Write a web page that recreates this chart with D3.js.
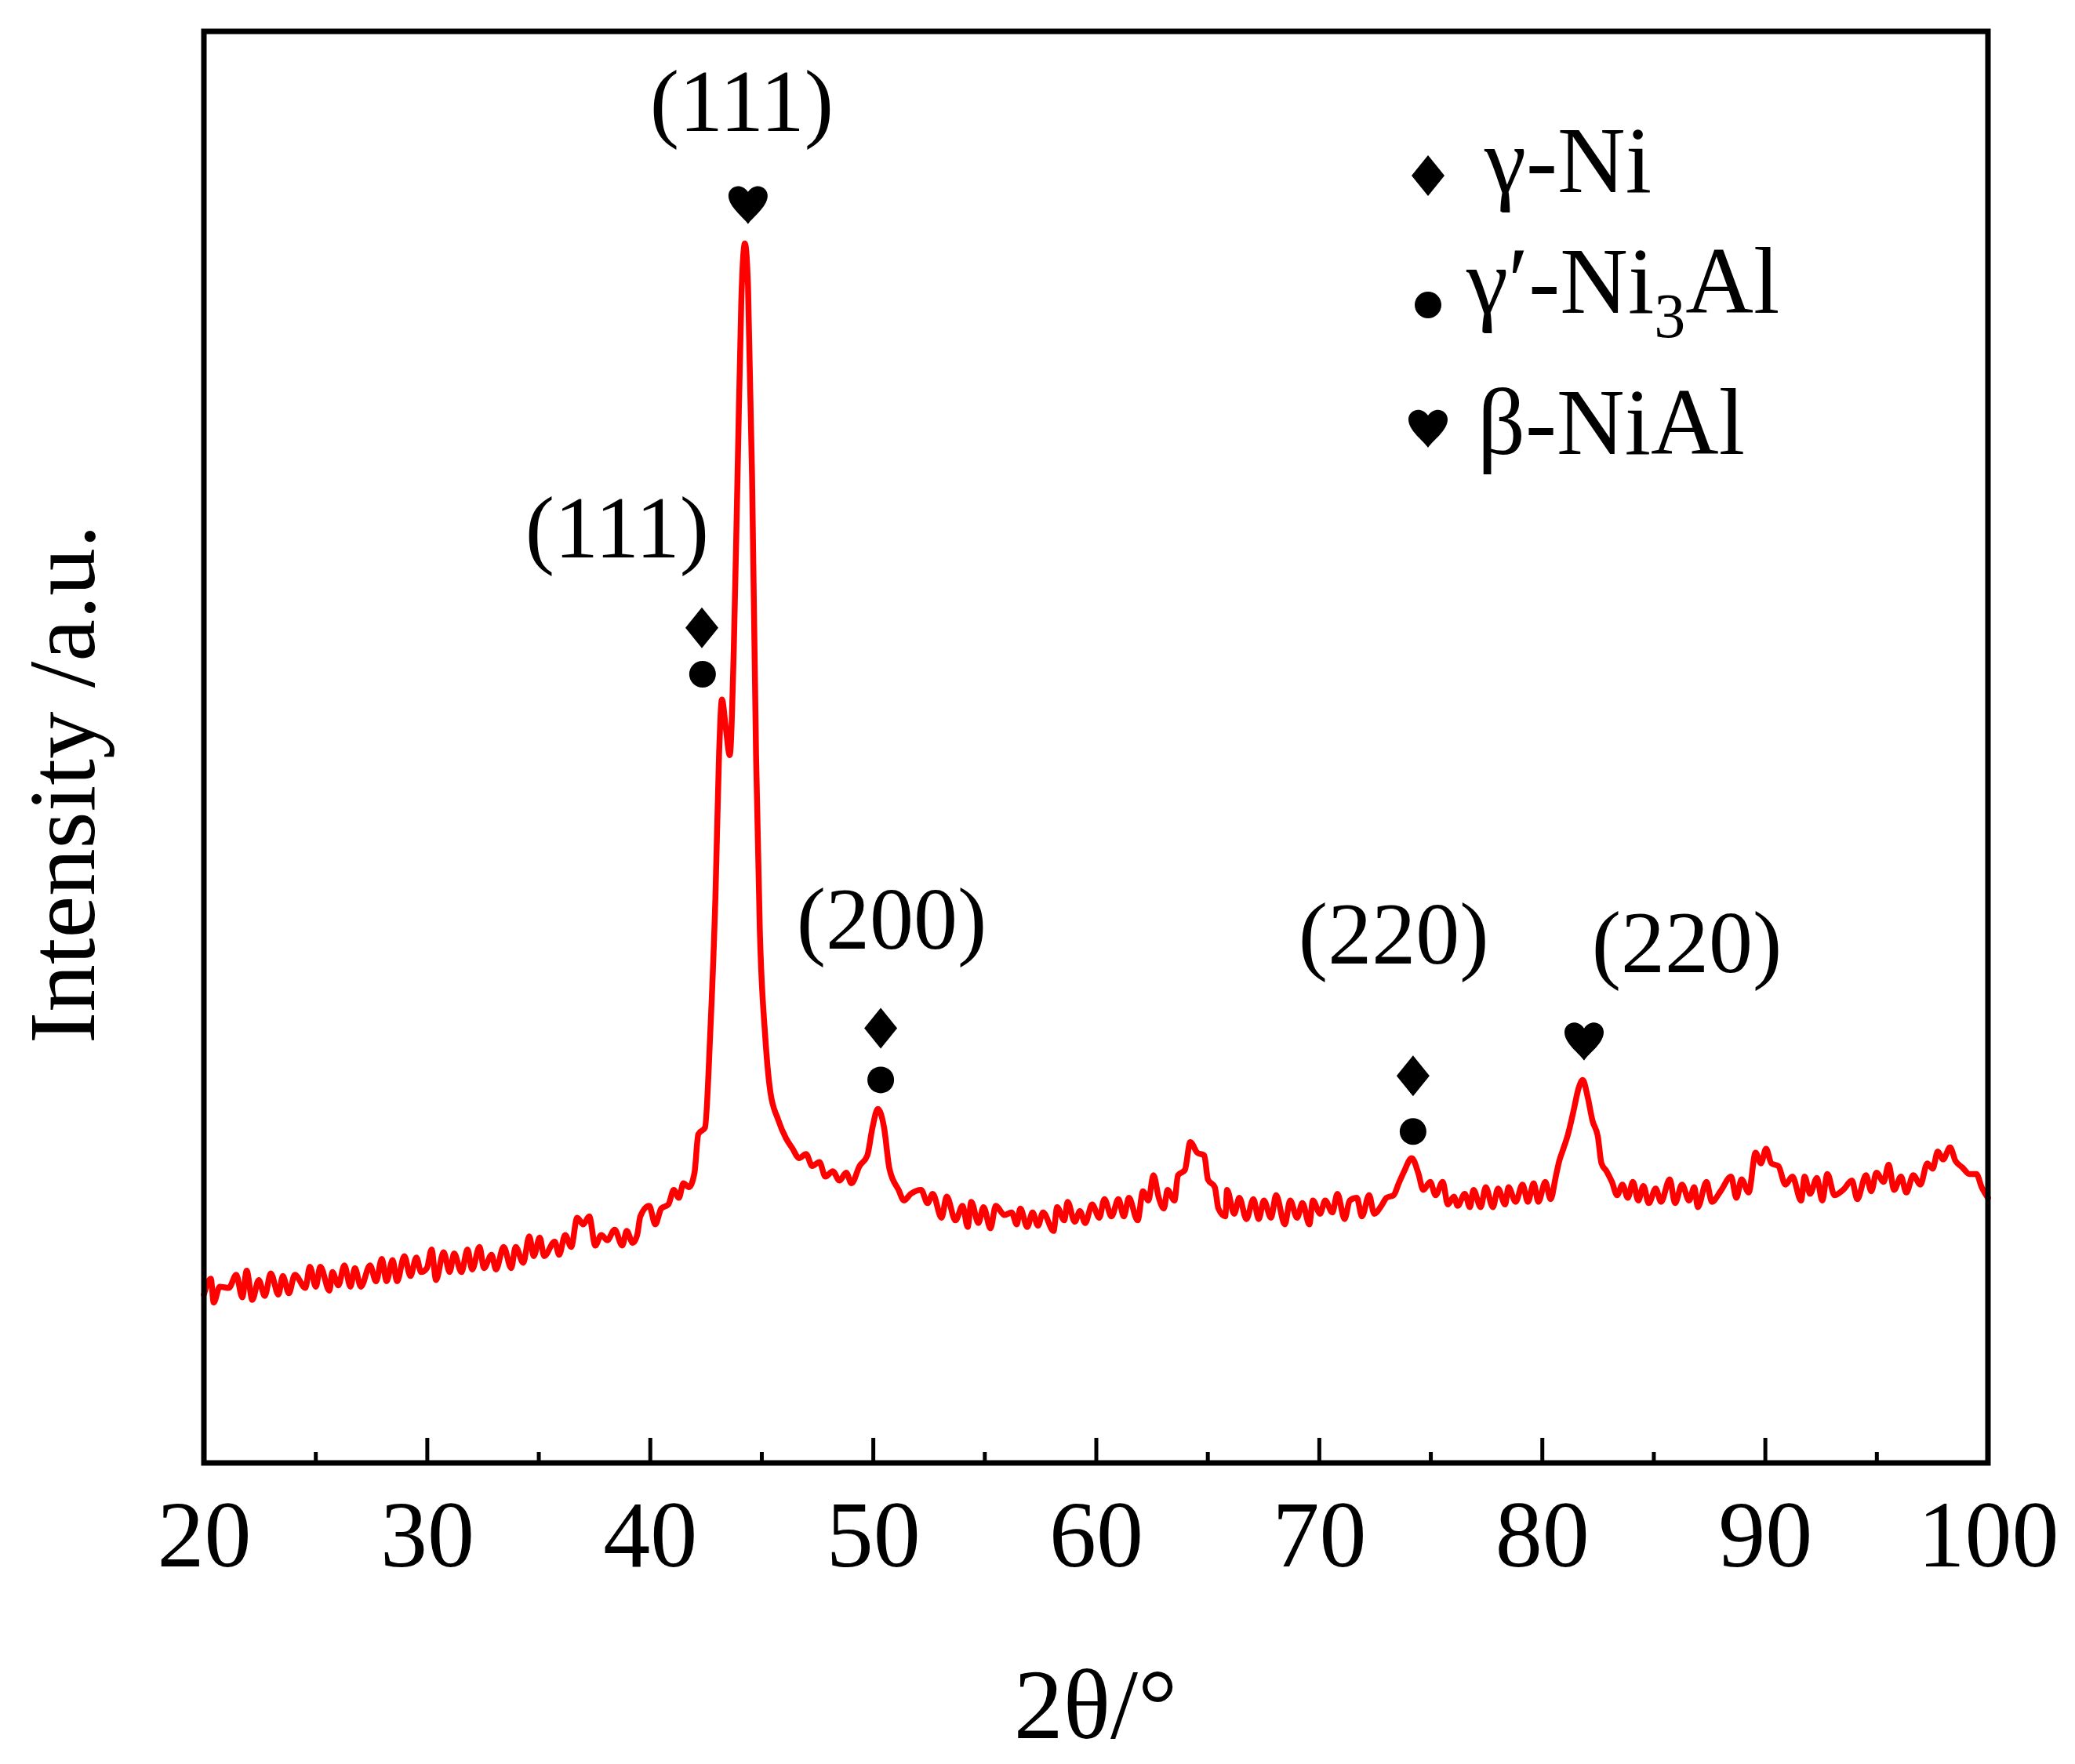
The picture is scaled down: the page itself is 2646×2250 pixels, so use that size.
<!DOCTYPE html>
<html><head><meta charset="utf-8">
<script src="https://cdn.jsdelivr.net/npm/d3@7"></script>
<style>html,body{margin:0;padding:0;background:#fff;} svg{display:block;}</style>
</head><body>
<svg id="chart" width="2646" height="2250"></svg>
<script>
// ---- Data (2θ in degrees, intensity in a.u.) ----
const twoTheta = [
20.00,20.31,20.44,20.71,21.12,21.45,21.72,21.92,22.17,22.46,22.73,23.00,23.34,23.54,23.81,24.08,24.55,24.75,25.02,25.22,
25.63,25.76,26.03,26.30,26.57,26.77,27.04,27.45,27.72,27.98,28.19,28.46,28.66,28.99,29.26,29.53,29.74,30.00,30.21,30.41,
30.75,31.02,31.22,31.55,31.82,32.03,32.36,32.56,32.90,33.10,33.44,33.78,33.98,34.32,34.59,34.79,35.06,35.26,35.73,35.93,
36.20,36.47,36.74,37.01,37.28,37.55,37.82,38.09,38.42,38.76,38.96,39.23,39.43,39.57,39.97,40.24,40.51,
40.83,41.07,41.30,41.50,41.75,42.00,42.17,42.47,42.70,42.94,43.10,43.23,43.40,43.58,43.76,43.93,44.10,44.26,44.40,44.58,
44.76,44.93,45.17,45.40,45.75,46.10,46.40,46.69,47.00,47.28,47.60,47.87,48.20,48.50,48.80,49.04,49.40,49.75,49.98,50.22,
50.50,50.74,51.15,51.39,51.70,
52.16,52.45,52.68,53.08,53.31,53.70,54.02,54.25,54.41,54.73,54.96,55.27,55.51,55.90,56.22,56.45,56.61,56.92,57.16,57.40,
57.63,58.10,58.26,58.58,58.73,59.05,59.28,59.52,59.83,60.15,60.38,60.70,61.01,61.25,61.48,61.87,62.11,62.35,62.58,62.82,
63.05,63.21,63.52,63.68,63.99,64.23,64.55,64.86,65.02,65.33,65.49,65.80,65.88,66.20,66.43,66.75,67.06,67.30,67.53,67.85,
68.08,68.47,68.71,69.02,69.26,69.57,69.73,70.05,70.28,70.60,70.83,71.15,71.38,71.70,71.93,72.25,72.48,72.80,73.03,73.35,
73.58,73.82,74.16,74.45,74.68,74.99,75.23,75.55,75.78,
76.05,76.22,76.54,76.77,76.93,77.25,77.48,77.80,78.03,78.35,78.50,78.82,79.13,79.37,79.63,79.84,80.15,80.39,80.62,80.78,
80.94,81.17,81.41,81.65,81.83,82.04,82.27,82.51,82.67,82.90,83.14,83.37,83.61,83.85,84.08,84.32,84.55,84.79,85.10,85.34,
85.73,85.97,86.28,86.60,86.83,86.99,87.38,87.62,88.01,88.48,88.72,88.95,89.27,89.58,89.82,90.05,90.29,90.60,90.92,91.23,
91.62,91.78,92.02,92.33,92.57,92.80,93.12,93.51,93.90,94.14,94.53,94.77,95.00,95.32,95.55,95.79,96.10,96.34,96.65,96.97,
97.28,97.52,97.75,97.99,98.30,98.54,98.85,99.17,99.48,99.72,100.00
];
const intensity = [
127,139,121,133,132,142,125,145,123,138,126,143,127,141,128,142,132,148,133,148,
130,144,134,149,133,147,133,149,137,154,137,153,137,156,141,155,144,147,161,138,
159,144,158,144,161,146,163,147,157,146,163,147,163,151,171,156,170,156,167,157,
172,163,185,180,186,164,172,168,176,164,175,166,172,186,194,180,192,
195,206,200,211,208,219,248,253,322,428,534,576,555,534,613,745,878,920,888,745,
534,401,322,280,259,245,237,230,233,224,227,216,220,213,219,211,224,232,253,267,
253,222,206,198,203,
206,196,203,185,201,183,194,178,197,181,193,177,194,187,189,180,192,178,189,179,
189,175,193,183,197,182,190,181,195,185,199,186,199,186,200,183,205,198,217,200,
192,206,198,217,221,242,234,232,214,208,192,186,206,188,200,184,199,184,198,185,
202,180,198,185,196,180,198,188,198,189,203,184,198,200,186,202,188,194,200,202,
211,220,230,219,206,212,202,212,195,
201,194,203,193,206,193,208,193,207,195,208,197,210,197,211,197,212,199,216,228,
236,248,265,283,289,277,258,246,226,220,212,202,210,200,212,198,209,196,207,197,
214,196,210,198,208,193,212,197,205,216,200,214,204,234,226,237,226,224,210,216,
198,216,203,215,198,218,202,206,213,199,217,205,219,212,225,206,216,204,217,210,
226,222,235,229,238,228,223,218,218,208,200
];
const xTicksMajor = [20,30,40,50,60,70,80,90,100];
const xTicksMinor = [25,35,45,55,65,75,85,95];

// peak annotations (hkl labels and phase markers)
const peakLabels     = ["(111)","(111)","(200)","(220)","(220)"];
const peakLabelTheta = [44.12, 38.53, 50.84, 73.35, 86.50];
const peakLabelLevel = [1005, 683, 388, 377, 370];
const markerPhase = ["heart","diamond","circle","diamond","circle","diamond","circle","heart"];
const markerTheta = [44.40, 42.33, 42.36, 50.35, 50.35, 74.22, 74.22, 81.89];
const markerLevel = [950, 630, 595, 328, 289, 292, 250, 319];

// legend
const legendSymbols = ["diamond","circle","heart"];
const legendParts = [[["γ-Ni",false]],[["γ′-Ni",false],["3",true],["Al",false]],[["β-NiAl",false]]];

// ---- Drawing ----
const FONT = "'Liberation Serif','Times New Roman','DejaVu Serif',serif";
const svg = d3.select("#chart");
const plotL = 260, plotR = 2535, plotT = 40, plotB = 1866;
const x = d3.scaleLinear().domain([20,100]).range([plotL,plotR]);
const y = d3.scaleLinear().domain([0,1080]).range([plotB,plotT]);

const shapes = {
  diamond: "M0,-26L21,0L0,26L-21,0Z",
  heart: "M0,26C-6,17 -25,4 -25,-10C-25,-22 -9,-28 0,-15C9,-28 25,-22 25,-10C25,4 6,17 0,26Z"
};
function drawSymbol(g, type, cx, cy){
  if(type === "circle"){
    g.append("circle").attr("cx",cx).attr("cy",cy).attr("r",17).attr("fill","#000");
  } else {
    g.append("path").attr("d",shapes[type]).attr("transform",`translate(${cx},${cy})`).attr("fill","#000");
  }
}

// curve
const pts = twoTheta.map((t,i)=>[t,intensity[i]]);
svg.append("path")
  .datum(pts)
  .attr("d", d3.line().curve(d3.curveMonotoneX).x(d=>x(d[0])).y(d=>y(d[1])))
  .attr("fill","none").attr("stroke","#ff0000").attr("stroke-width",7.5)
  .attr("stroke-linejoin","round").attr("stroke-linecap","round");

// axes
const gMinor = svg.append("g").attr("transform",`translate(0,${plotB})`)
  .call(d3.axisBottom(x).tickValues(xTicksMinor).tickSize(-14).tickFormat(""));
gMinor.select(".domain").remove();
gMinor.selectAll(".tick line").attr("stroke","#000").attr("stroke-width",5);

const gMajor = svg.append("g").attr("transform",`translate(0,${plotB})`)
  .call(d3.axisBottom(x).tickValues(xTicksMajor).tickSize(-32).tickFormat(d3.format("d")));
gMajor.select(".domain").remove();
gMajor.selectAll(".tick line").attr("stroke","#000").attr("stroke-width",5);
gMajor.selectAll(".tick text").attr("y",132).attr("dy",0)
  .attr("font-family",FONT).attr("font-size",120).attr("fill","#000");

// frame
svg.append("rect").attr("x",plotL).attr("y",plotT).attr("width",plotR-plotL).attr("height",plotB-plotT)
  .attr("fill","none").attr("stroke","#000").attr("stroke-width",7);

// axis titles
svg.append("text").attr("x",1397).attr("y",2217).attr("text-anchor","middle")
  .attr("font-family",FONT).attr("font-size",126).text("2θ/°");
svg.append("text").attr("transform","translate(120,1000) rotate(-90)").attr("text-anchor","middle")
  .attr("font-family",FONT).attr("font-size",121).text("Intensity /a.u.");

// peak labels
const gAnn = svg.append("g");
peakLabels.forEach((lab,i)=>{
  gAnn.append("text").attr("x",x(peakLabelTheta[i])).attr("y",y(peakLabelLevel[i]))
    .attr("text-anchor","middle").attr("font-family",FONT).attr("font-size",112).text(lab);
});
markerPhase.forEach((ph,i)=>drawSymbol(gAnn, ph, x(markerTheta[i]), y(markerLevel[i])));

// legend
const legSymX = 1821, legSymY = [224, 389, 545];
const legTextX = [1893, 1870, 1884], legTextY = [245, 399, 579];
const gLeg = svg.append("g");
legendSymbols.forEach((s,i)=>{
  drawSymbol(gLeg, s, legSymX, legSymY[i]);
  const t = gLeg.append("text").attr("x",legTextX[i]).attr("y",legTextY[i])
    .attr("font-family",FONT).attr("font-size",120);
  let shifted = false;
  legendParts[i].forEach(([str,sub])=>{
    const ts = t.append("tspan").text(str);
    if(sub){ ts.attr("font-size",80).attr("dy",31); shifted = true; }
    else if(shifted){ ts.attr("dy",-31); shifted = false; }
  });
});
</script>
</body></html>
